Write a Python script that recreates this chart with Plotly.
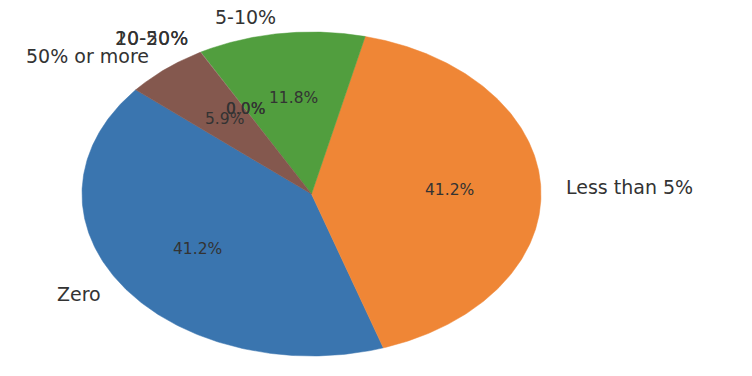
import numpy as np
import plotly.graph_objects as go

categories = ["Zero", "Less than 5%", "5-10%", "10-20%", "20-50%", "50% or more"]
counts = [7, 7, 2, 0, 0, 1]
colors = ["#3a75af", "#ef8636", "#519e3e", "#c53a32", "#8d69b8", "#84584e"]

start_angle = 140.0
label_dist = 1.1
pct_dist = 0.6

# page body has an 8px margin; compensate so the pie centre lands at (311.5, 194)
cx_px, cy_px = 311.5 - 8, 194 - 8
rx_px, ry_px = 229.5, 162.0
W, H = 752, 376

total = sum(counts)
fig = go.Figure()
annotations = []
theta0 = start_angle
for cat, val, col in zip(categories, counts, colors):
    span = 360.0 * val / total
    theta1 = theta0 + span
    if val > 0:
        t = np.radians(np.linspace(theta0, theta1, 200))
        xs = np.concatenate([[0], np.cos(t), [0]])
        ys = np.concatenate([[0], np.sin(t), [0]])
        fig.add_trace(go.Scatter(x=xs, y=ys, mode="lines", fill="toself",
                                 fillcolor=col, line=dict(color=col, width=0.5),
                                 hoverinfo="skip", showlegend=False))
    mid = np.radians((theta0 + theta1) / 2)
    cx, cy = np.cos(mid), np.sin(mid)
    annotations.append(dict(x=label_dist * cx, y=label_dist * cy, text=cat,
                            xanchor="left" if cx > 0 else "right", yanchor="middle",
                            showarrow=False, font=dict(size=19, color="#333333",
                                                       family="DejaVu Sans")))
    annotations.append(dict(x=pct_dist * cx, y=pct_dist * cy,
                            text=f"{100.0 * val / total:.1f}%",
                            xanchor="center", yanchor="middle", showarrow=False,
                            font=dict(size=15.5, color="#333333", family="DejaVu Sans")))
    theta0 = theta1

fig.update_layout(
    width=W, height=H,
    margin=dict(l=0, r=0, t=0, b=0),
    paper_bgcolor="white", plot_bgcolor="white",
    xaxis=dict(range=[-cx_px / rx_px, (W - cx_px) / rx_px], visible=False, fixedrange=True),
    yaxis=dict(range=[-(H - cy_px) / ry_px, cy_px / ry_px], visible=False, fixedrange=True),
    annotations=annotations,
    showlegend=False,
)
fig.write_html("out.html")
